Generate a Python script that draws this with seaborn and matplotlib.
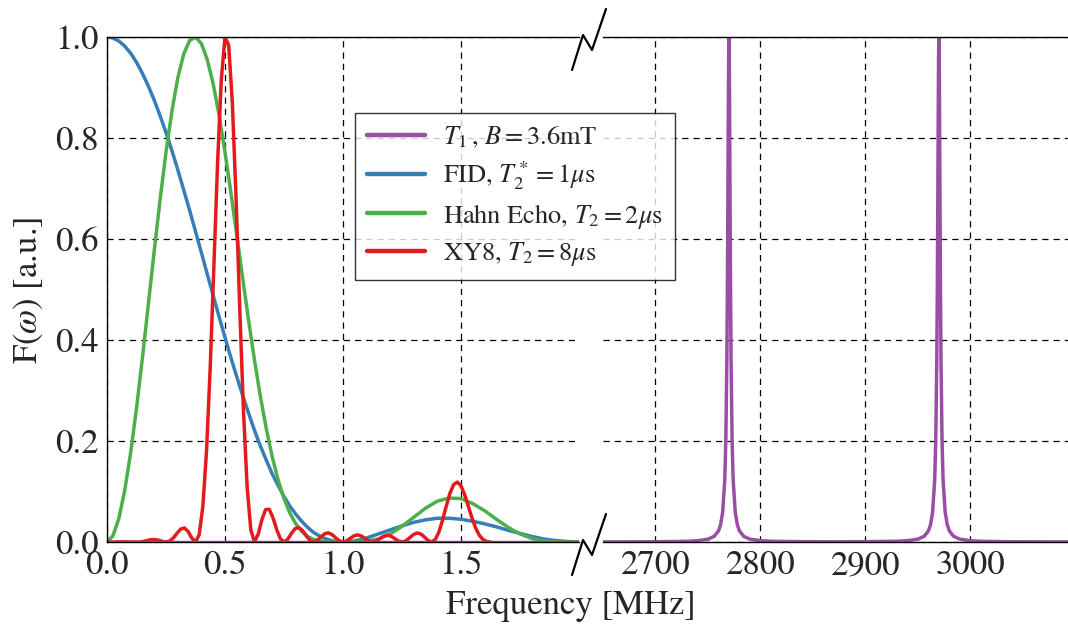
import matplotlib
matplotlib.use('Agg')
import matplotlib.pyplot as plt
from matplotlib.lines import Line2D
import numpy as np
import pandas as pd
import seaborn as sns

# ── Data ──────────────────────────────────────────────────────────────────────
# shared grid for FID / Hahn echo: 0..1 MHz step 0.025, then 1.05..2 MHz step 0.05
lobe_freq = np.concatenate([np.linspace(0.0, 1.0, 41), np.linspace(1.05, 2.0, 20)])

# FID, T2* = 1 us
fid_vals = [1.000, 0.998, 0.992, 0.982, 0.968, 0.950, 0.928, 0.903, 0.875, 0.844,
            0.811, 0.775, 0.737, 0.697, 0.657, 0.615, 0.573, 0.530, 0.488, 0.446,
            0.405, 0.365, 0.327, 0.290, 0.255, 0.221, 0.190, 0.162, 0.135, 0.112,
            0.090, 0.071, 0.055, 0.041, 0.029, 0.019, 0.012, 0.0065, 0.003, 0.0007,
            0.000,
            0.002, 0.008, 0.016, 0.024, 0.032, 0.039, 0.044, 0.047, 0.047, 0.045,
            0.041, 0.036, 0.030, 0.023, 0.017, 0.011, 0.006, 0.003, 0.001, 0.000]

# Hahn echo, T2 = 2 us
hahn_vals = [0.000, 0.012, 0.046, 0.102, 0.176, 0.265, 0.364, 0.470, 0.576, 0.678,
             0.772, 0.853, 0.919, 0.966, 0.993, 1.000, 0.987, 0.955, 0.907, 0.845,
             0.772, 0.692, 0.607, 0.522, 0.439, 0.360, 0.288, 0.224, 0.169, 0.123,
             0.086, 0.057, 0.036, 0.021, 0.011, 0.005, 0.002, 0.001, 0.000, 0.000,
             0.000,
             0.000, 0.002, 0.006, 0.016, 0.031, 0.049, 0.067, 0.081, 0.087, 0.086,
             0.076, 0.062, 0.045, 0.029, 0.016, 0.007, 0.002, 0.001, 0.000, 0.000]

# XY8, T2 = 8 us  (0 .. 1.625 MHz, step 1/64)
xy8_freq = np.linspace(0.0, 1.625, 105)
xy8_vals = [0.0000, 0.0000, 0.0000, 0.0003, 0.0004, 0.0003, 0.0001, 0.0000,
            0.0000, 0.0001, 0.0014, 0.0031, 0.0046, 0.0049, 0.0035, 0.0013,
            0.0000, 0.0019, 0.0082, 0.0174, 0.0256, 0.0277, 0.0208, 0.0079,
            0.0000, 0.0145, 0.0707, 0.1818, 0.3474, 0.5491, 0.7527, 0.9158,
            1.0000, 0.9835, 0.8684, 0.6809, 0.4633, 0.2611, 0.1095, 0.0243,
            0.0000, 0.0155, 0.0442, 0.0641, 0.0648, 0.0484, 0.0251, 0.0066,
            0.0000, 0.0054, 0.0168, 0.0265, 0.0287, 0.0228, 0.0125, 0.0034,
            0.0000, 0.0031, 0.0099, 0.0162, 0.0181, 0.0148, 0.0084, 0.0024,
            0.0000, 0.0022, 0.0074, 0.0123, 0.0141, 0.0118, 0.0068, 0.0020,
            0.0000, 0.0020, 0.0067, 0.0114, 0.0134, 0.0116, 0.0069, 0.0021,
            0.0000, 0.0022, 0.0079, 0.0142, 0.0178, 0.0164, 0.0105, 0.0035,
            0.0000, 0.0047, 0.0195, 0.0432, 0.0709, 0.0964, 0.1136, 0.1187,
            0.1111, 0.0935, 0.0705, 0.0471, 0.0272, 0.0130, 0.0046, 0.0009,
            0.0000]

# T1, B = 3.6 mT : flat in the low band, two resonance lines in the high band
t1_low_freq = [0.0, 2.0]
t1_low_vals = [0.0, 0.0]
t1_high_freq = [2650, 2700, 2730, 2740, 2750, 2756, 2760, 2762, 2764, 2766,
                2767, 2768, 2768.5, 2769, 2769.4, 2769.7, 2770, 2770.3, 2770.6, 2771,
                2771.5, 2772, 2773, 2774, 2776, 2778, 2780, 2784, 2790, 2800,
                2810, 2840, 2870, 2900, 2930, 2940, 2950, 2956, 2960, 2962,
                2964, 2966, 2967, 2968, 2968.5, 2969, 2969.4, 2969.7, 2970, 2970.3,
                2970.6, 2971, 2971.5, 2972, 2973, 2974, 2976, 2978, 2980, 2984,
                2990, 3000, 3010, 3040, 3100]
t1_high_vals = [0.0002, 0.0005, 0.0014, 0.0025, 0.0056, 0.0113, 0.022, 0.034, 0.0588, 0.123,
                0.200, 0.360, 0.500, 0.692, 0.862, 0.962, 1.000, 0.962, 0.862, 0.692,
                0.500, 0.360, 0.200, 0.123, 0.0588, 0.034, 0.022, 0.0113, 0.0056, 0.0026,
                0.0015, 0.0007, 0.0004, 0.0007, 0.0015, 0.0026, 0.0056, 0.0113, 0.022, 0.034,
                0.0588, 0.123, 0.200, 0.360, 0.500, 0.692, 0.862, 0.962, 1.000, 0.962,
                0.862, 0.692, 0.500, 0.360, 0.200, 0.123, 0.0588, 0.034, 0.022, 0.0113,
                0.0056, 0.0025, 0.0014, 0.0005, 0.0002]

LABELS = [r'$T_1\,$, $B=$3.6mT', r'FID, $T_2^*=$1$\mu$s',
          r'Hahn Echo, $T_2=$2$\mu$s', r'XY8, $T_2=$8$\mu$s']
pal = sns.color_palette('Set1')
C_T1, C_FID, C_HAHN, C_XY8 = pal[3], pal[1], pal[2], pal[0]

low_ticks = [0.0, 0.5, 1.0, 1.5]
high_ticks = [2700, 2800, 2900, 3000]
y_ticks = [0.0, 0.2, 0.4, 0.6, 0.8, 1.0]

# ── Style ─────────────────────────────────────────────────────────────────────
sns.set_style('white')
plt.rcParams['font.family'] = ['STIXGeneral', 'DejaVu Serif']
plt.rcParams['mathtext.fontset'] = 'stix'

W, H = 1068, 631
fig = plt.figure(figsize=(W / 100, H / 100), dpi=100)
ax1 = fig.add_axes([107 / W, 1 - 542 / H, 472 / W, 505 / H])
ax2 = fig.add_axes([603 / W, 1 - 542 / H, 465 / W, 505 / H])

LW = 2.5
def draw(ax, x, y, color):
    df = pd.DataFrame({'f': x, 'F': y})
    sns.lineplot(data=df, x='f', y='F', ax=ax, color=color, lw=LW,
                 estimator=None, sort=False, legend=False)

draw(ax1, lobe_freq, fid_vals, C_FID)
draw(ax1, lobe_freq, hahn_vals, C_HAHN)
draw(ax1, xy8_freq, xy8_vals, C_XY8)
draw(ax1, t1_low_freq, t1_low_vals, C_T1)
draw(ax2, t1_high_freq, t1_high_vals, C_T1)

ax1.set_xlim(0.0, 2.0)
ax2.set_xlim(2650, 3093)
for ax in (ax1, ax2):
    ax.set_ylim(0.0, 1.0)
    ax.set_xlabel('')
    ax.set_ylabel('')
    ax.set_yticks(y_ticks)
    ax.grid(True, color='black', lw=0.9, linestyle=(0, (5, 4)))
    ax.spines['right'].set_visible(False)
    for s in ('top', 'bottom', 'left'):
        ax.spines[s].set_color('black')
        ax.spines[s].set_linewidth(1.0)

ax1.set_xticks(low_ticks)
ax1.set_xticklabels(['0.0', '0.5', '1.0', '1.5'])
ax1.set_yticklabels(['0.0', '0.2', '0.4', '0.6', '0.8', '1.0'])
ax1.tick_params(axis='y', direction='in', length=5, width=1, labelsize=25, pad=6)
ax1.tick_params(axis='x', length=0, labelsize=25, pad=6)

ax2.spines['left'].set_visible(False)
ax2.set_xticks(high_ticks)
ax2.set_xticklabels([str(t) for t in high_ticks])
ax2.tick_params(axis='y', left=False, labelleft=False)
ax2.tick_params(axis='x', length=0, labelsize=25, pad=6)

fig.text(571 / W, 1 - 606 / H, 'Frequency [MHz]', fontsize=25, ha='center', va='center')
fig.text(28 / W, 1 - 290 / H, r'F($\omega$) [a.u.]', fontsize=25, ha='center',
         va='center', rotation=90)

# axis-break marks
def brk(y0):
    xs = [572, 583, 592, 606]
    ys = [y0 + 33, y0 - 2, y0 + 13, y0 - 28]
    fig.add_artist(Line2D([x / W for x in xs], [1 - y / H for y in ys],
                          color='black', lw=1.6, transform=fig.transFigure))
brk(37)
brk(542)

handles = [Line2D([], [], color=c, lw=3.2) for c in (C_T1, C_FID, C_HAHN, C_XY8)]
leg = fig.legend(handles, LABELS, loc='upper left', bbox_to_anchor=(355 / W, 1 - 113 / H),
                 fontsize=19, frameon=True, fancybox=False, handlelength=2.2,
                 handletextpad=0.7, borderpad=0.45, labelspacing=0.35, borderaxespad=0)
leg.get_frame().set_edgecolor('black')
leg.get_frame().set_linewidth(1.0)

fig.savefig('out.png', dpi=100)
